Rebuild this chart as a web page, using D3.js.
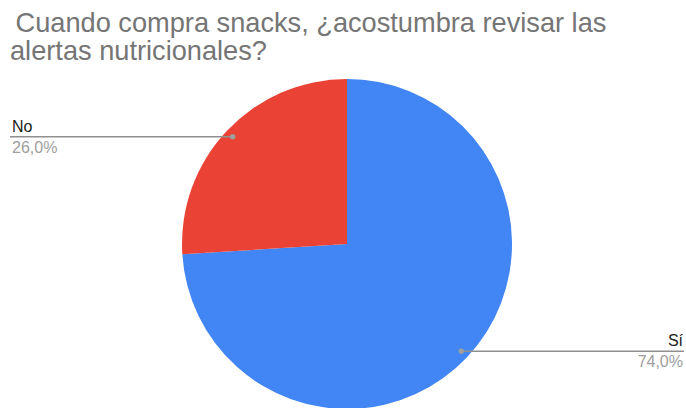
<!DOCTYPE html>
<html>
<head>
<meta charset="utf-8">
<script src="https://cdn.jsdelivr.net/npm/d3@7"></script>
<style>
  html, body { margin: 0; padding: 0; background: #fff; }
  svg { display: block; }
</style>
</head>
<body>
<svg id="chart" width="686" height="408"></svg>
<script>
// Survey answers and their shares (percent)
const categories = ["Sí", "No"];
const values = [74.0, 26.0];
const colors = ["#4285F4", "#EA4335"];
const titleLines = [" Cuando compra snacks, ¿acostumbra revisar las", "alertas nutricionales?"];

const width = 686, height = 408;
const cx = 347, cy = 244, radius = 165;

const svg = d3.select("#chart");
const font = "'Liberation Sans', Arial, sans-serif";

// Title
svg.append("text")
  .attr("font-family", font)
  .attr("font-size", 27.2)
  .attr("fill", "#757575")
  .selectAll("tspan")
  .data(titleLines)
  .join("tspan")
  .attr("x", (d, i) => i === 0 ? 8 : 10)
  .attr("y", (d, i) => 32 + i * 28)
  .attr("xml:space", "preserve")
  .style("white-space", "pre")
  .text(d => d);

const data = categories.map((c, i) => ({ name: c, value: values[i], color: colors[i] }));

const pie = d3.pie().sort(null).value(d => d.value);
const arcs = pie(data);
const arc = d3.arc().innerRadius(0).outerRadius(radius);

const g = svg.append("g").attr("transform", `translate(${cx},${cy})`);
g.selectAll("path")
  .data(arcs)
  .join("path")
  .attr("d", arc)
  .attr("fill", d => d.data.color);

// Leader lines with anchor dots and labels
const anchorArc = d3.arc().innerRadius(radius * 0.95).outerRadius(radius * 0.95);
const fmt = v => v.toFixed(1).replace(".", ",") + "%";

arcs.forEach(a => {
  const [px, py] = anchorArc.centroid(a);
  const ax = cx + px, ay = cy + py;
  const right = ax > cx;
  const endX = right ? 684 : 10;

  svg.append("line")
    .attr("x1", ax).attr("y1", ay)
    .attr("x2", endX).attr("y2", ay)
    .attr("stroke", "#8f8f8f")
    .attr("stroke-width", 1.4);

  svg.append("circle")
    .attr("cx", ax).attr("cy", ay).attr("r", 2.7)
    .attr("fill", "#9e9e9e");

  const tx = right ? 683 : 12;
  const anchor = right ? "end" : "start";

  svg.append("text")
    .attr("x", tx).attr("y", ay - 5)
    .attr("text-anchor", anchor)
    .attr("font-family", font)
    .attr("font-size", 16)
    .attr("fill", "#212121")
    .text(a.data.name);

  svg.append("text")
    .attr("x", tx).attr("y", ay + 16)
    .attr("text-anchor", anchor)
    .attr("font-family", font)
    .attr("font-size", 16)
    .attr("fill", "#9e9e9e")
    .text(fmt(a.data.value));
});
</script>
</body>
</html>
